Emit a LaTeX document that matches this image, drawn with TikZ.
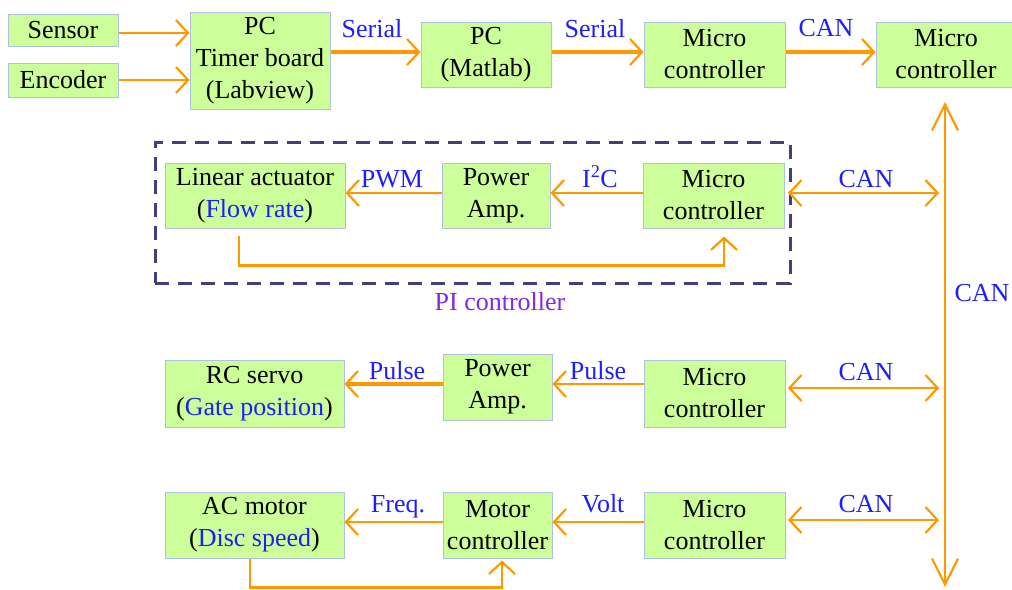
\documentclass[tikz,border=0pt]{standalone}
\usepackage{fontspec}
\setmainfont{Liberation Serif}
\usetikzlibrary{arrows.meta,calc}
\definecolor{boxg}{RGB}{204,255,153}
\definecolor{boxb}{RGB}{176,192,228}
\definecolor{orng}{RGB}{255,153,0}
\definecolor{dashc}{RGB}{64,64,128}
\definecolor{lblue}{RGB}{30,30,250}
\definecolor{purp}{RGB}{130,40,230}
\tikzset{
  box/.style={draw=boxb, fill=boxg, line width=1pt, inner sep=0pt, align=center,
    font=\fontsize{26}{32}\selectfont},
  barb/.tip={Straight Barb[length=12pt,width=26pt,line width=2.2pt]},
  bigbarb/.tip={Straight Barb[length=26pt,width=26pt,line width=2.2pt]},
  flow/.style={draw=orng, line width=2.6pt, -barb},
  thickflow/.style={flow, line width=3.6pt},
  can/.style={draw=orng, line width=2.6pt, barb-barb},
  bus/.style={draw=orng, line width=2.6pt, bigbarb-bigbarb},
  lbl/.style={text=lblue, inner sep=0pt, anchor=base, font=\fontsize{26}{32}\selectfont},
  dashbox/.style={draw=dashc, line width=3pt, dash pattern=on 14pt off 9pt, inner sep=0pt},
}
\begin{document}
\begin{tikzpicture}[x=1pt,y=-1pt]
\useasboundingbox (0,0) rectangle (1012,589);
% top row
\node[box, minimum width=110pt, minimum height=32pt] (sensor) at (63,30) {Sensor};
\node[box, minimum width=110pt, minimum height=34pt] (encoder) at (63,80) {Encoder};
\node[box, minimum width=140pt, minimum height=97pt] (pct) at (260,60.5) {PC\\Timer board\\(Labview)};
\node[box, minimum width=130pt, minimum height=65pt] (pcm) at (486,54.5) {PC\\(Matlab)};
\node[box, minimum width=141pt, minimum height=65pt] (mc1) at (714.5,54.5) {Micro\\controller};
\node[box, minimum width=140pt, minimum height=65pt] (mc2) at (946,54.5) {Micro\\controller};
% row 2
\node[dashbox, minimum width=635pt, minimum height=141pt] (pibox) at (472.5,212.5) {};
\node[box, minimum width=180pt, minimum height=65pt] (la) at (255,195.5) {Linear actuator\\(\textcolor{lblue}{Flow rate})};
\node[box, minimum width=108pt, minimum height=65pt] (pa2) at (496,195.5) {Power\\Amp.};
\node[box, minimum width=141pt, minimum height=65pt] (m2) at (713.5,195.5) {Micro\\controller};
% row 3
\node[box, minimum width=179pt, minimum height=67pt] (rc) at (254.5,393.5) {RC servo\\(\textcolor{lblue}{Gate position})};
\node[box, minimum width=109pt, minimum height=66pt] (pa3) at (497.5,387) {Power\\Amp.};
\node[box, minimum width=141pt, minimum height=67pt] (m3) at (714.5,393.5) {Micro\\controller};
% row 4
\node[box, minimum width=179pt, minimum height=66pt] (ac) at (254.5,525) {AC motor\\(\textcolor{lblue}{Disc speed})};
\node[box, minimum width=109pt, minimum height=66pt] (mcr) at (497.5,525) {Motor\\controller};
\node[box, minimum width=141pt, minimum height=66pt] (m4) at (714.5,525) {Micro\\controller};
% levels
\coordinate (ys) at (0,33);
\coordinate (ye) at (0,80);
\coordinate (y1) at (0,52);
\coordinate (y2) at (0,193);
\coordinate (y3) at (0,384);
\coordinate (c3) at (0,388);
\coordinate (y4) at (0,522);
\coordinate (c4) at (0,520);
\coordinate (cx) at (939,0);
\coordinate (cl) at (788,0);
\coordinate (bt) at (945,102);
\coordinate (bb) at (945,587);
% top arrows
\draw[flow] (sensor.east |- ys) -- (pct.west |- ys);
\draw[flow] (encoder.east |- ye) -- (pct.west |- ye);
\draw[thickflow] (pct.east |- y1) -- (pcm.west |- y1);
\draw[thickflow] (pcm.east |- y1) -- (mc1.west |- y1);
\draw[thickflow] (mc1.east |- y1) -- (mc2.west |- y1);
\draw[bus] (bt) -- (bb);
% row arrows
\draw[flow] (m2.west |- y2) -- (pa2.east |- y2);
\draw[flow] (pa2.west |- y2) -- (la.east |- y2);
\draw[can] (cl |- y2) -- (cx |- y2);
\draw[flow] ([xshift=-16pt,yshift=-7pt]la.south) -- ([xshift=-16pt,yshift=-37pt]la.south) -| ([xshift=10.5pt,yshift=-8pt]m2.south);
\draw[flow] (m3.west |- y3) -- (pa3.east |- y3);
\draw[thickflow] (pa3.west |- y3) -- (rc.east |- y3);
\draw[can] (cl |- c3) -- (cx |- c3);
\draw[flow] (m4.west |- y4) -- (mcr.east |- y4);
\draw[flow] (mcr.west |- y4) -- (ac.east |- y4);
\draw[can] (cl |- c4) -- (cx |- c4);
\draw[flow] ([xshift=-4.5pt]ac.south) -- ([xshift=-4.5pt,yshift=-29pt]ac.south) -| ([xshift=4.5pt,yshift=-2pt]mcr.south);
% labels
\node[lbl] (l1) at (372,37) {Serial};
\node[lbl] (l2) at (595,37) {Serial};
\node[lbl] (l3) at (826,36) {CAN};
\node[lbl] (l4) at (392,187) {PWM};
\node[lbl] (l5) at (600,187) {I\textsuperscript{2}C};
\node[lbl] (l6) at (866,187) {CAN};
\node[lbl, text=purp] (l7) at (500,310) {PI controller};
\node[lbl] (l8) at (397,379) {Pulse};
\node[lbl] (l9) at (598,379) {Pulse};
\node[lbl] (l10) at (866,380) {CAN};
\node[lbl] (l11) at (398,512) {Freq.};
\node[lbl] (l12) at (603,512) {Volt};
\node[lbl] (l13) at (866,512) {CAN};
\node[lbl] (l14) at (982,301) {CAN};
\end{tikzpicture}
\end{document}
